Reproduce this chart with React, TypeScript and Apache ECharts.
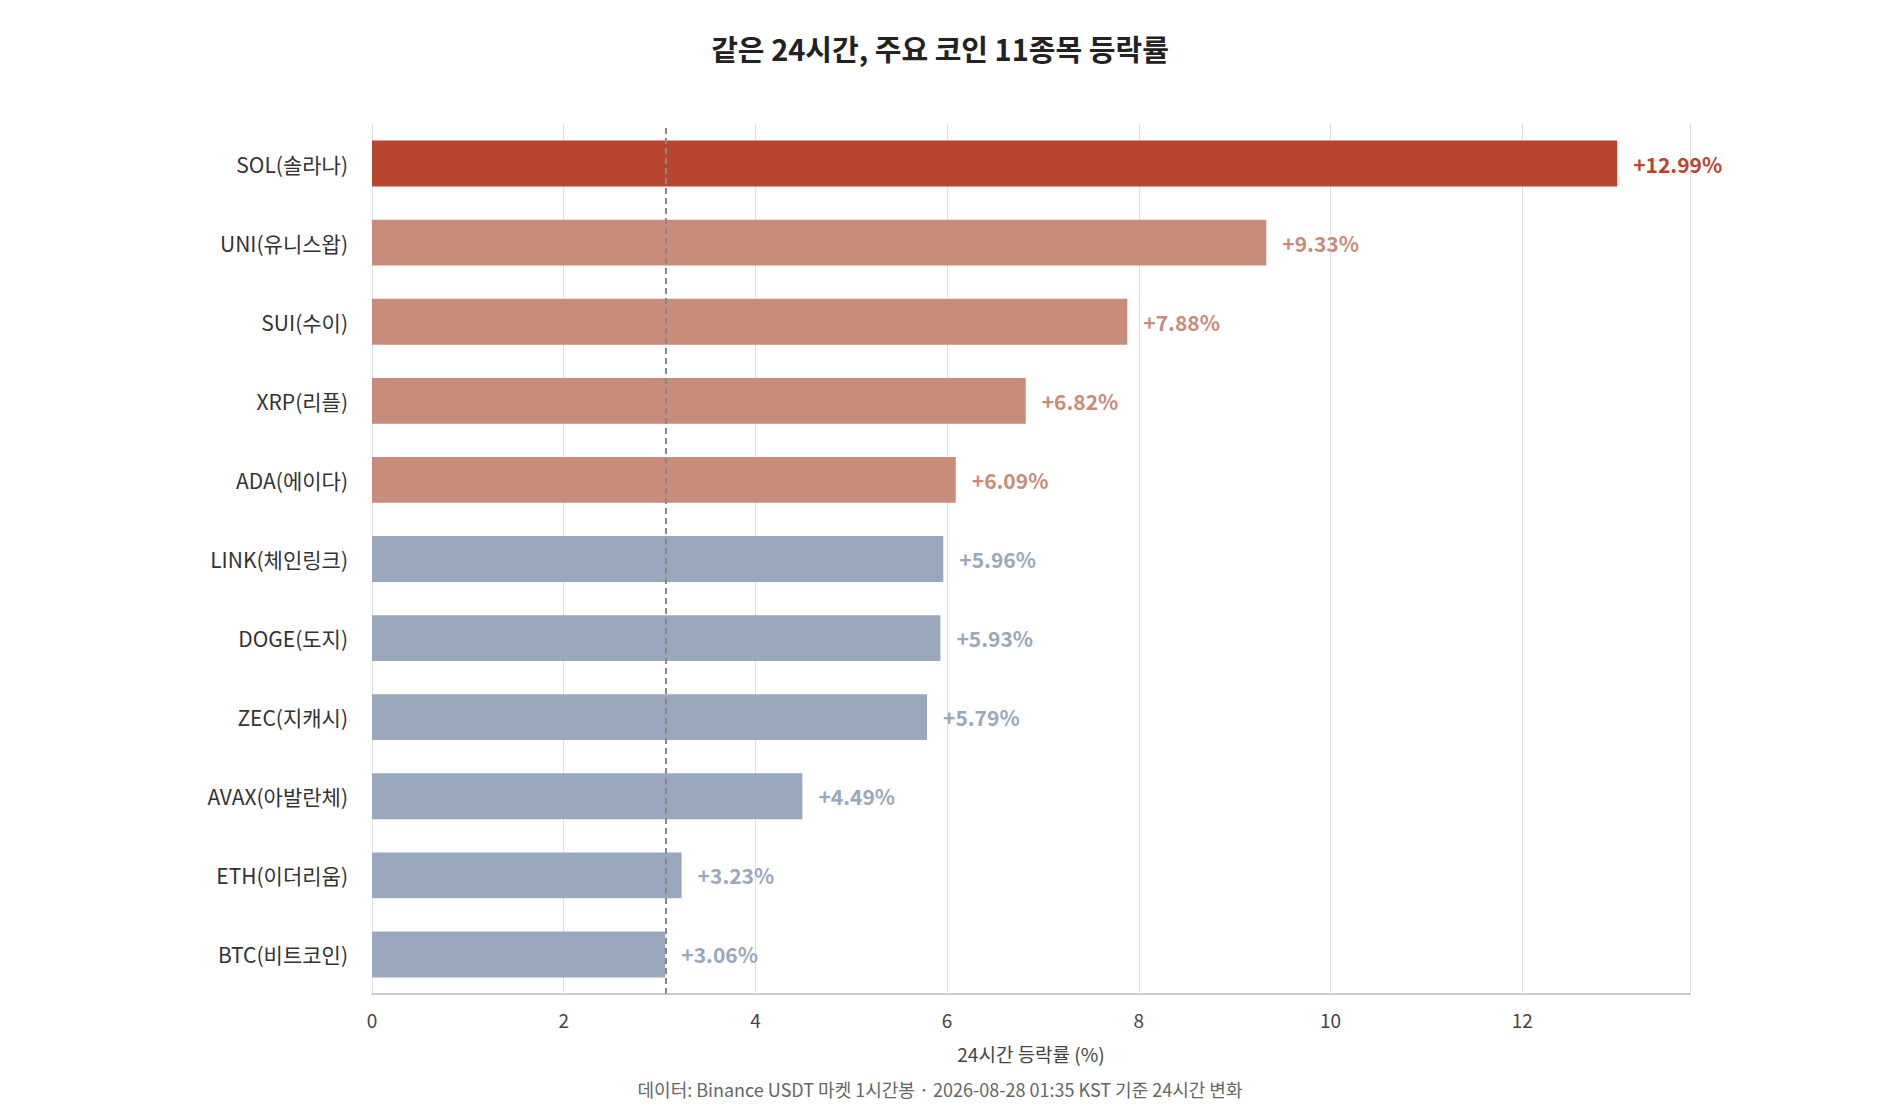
import React, { useEffect, useRef } from "react";
import * as echarts from "echarts";

const coins = [
  "BTC(비트코인)", "ETH(이더리움)", "AVAX(아발란체)", "ZEC(지캐시)", "DOGE(도지)",
  "LINK(체인링크)", "ADA(에이다)", "XRP(리플)", "SUI(수이)", "UNI(유니스왑)", "SOL(솔라나)",
];
const changes = [3.06, 3.23, 4.49, 5.79, 5.93, 5.96, 6.09, 6.82, 7.88, 9.33, 12.99];
const tiers = ["low", "low", "low", "low", "low", "low", "mid", "mid", "mid", "mid", "top"];
const btcRef = 3.06;

const tierColor: Record<string, string> = { top: "#b84530", mid: "#c98b7a", low: "#99a8bd" };
const font = "'Noto Sans CJK KR', 'Noto Sans', sans-serif";

const App: React.FC = () => {
  const chartRef = useRef<HTMLDivElement>(null);

  useEffect(() => {
    if (!chartRef.current) return;
    const chart = echarts.init(chartRef.current, undefined, { renderer: "svg" });

    chart.setOption({
      animation: false,
      textStyle: { fontFamily: font },
      title: {
        text: "같은 24시간, 주요 코인 11종목 등락률",
        left: "center",
        top: 28,
        textStyle: { fontSize: 29, fontWeight: "bold", color: "#222", fontFamily: font },
      },
      graphic: [
        {
          type: "text",
          left: "center",
          top: 1080,
          style: {
            text: "데이터: Binance USDT 마켓 1시간봉 · 2026-08-28 01:35 KST 기준 24시간 변화",
            fontSize: 18,
            fill: "#666",
            fontFamily: font,
          },
        },
      ],
      grid: { left: 372, right: 190, top: 124, bottom: 126 },
      xAxis: {
        type: "value",
        min: 0,
        max: 13.75,
        interval: 2,
        name: "24시간 등락률 (%)",
        nameLocation: "middle",
        nameGap: 50,
        nameTextStyle: { fontSize: 19, color: "#444" },
        axisLine: { show: true, lineStyle: { color: "#ccc", width: 2 } },
        axisTick: { show: false },
        axisLabel: { fontSize: 19, color: "#444", margin: 16, showMaxLabel: false },
        splitLine: { lineStyle: { color: "#e0e0e0", width: 1 } },
      },
      yAxis: {
        type: "category",
        data: coins,
        axisLine: { show: false },
        axisTick: { show: false },
        axisLabel: { fontSize: 21, color: "#333", margin: 24 },
      },
      series: [
        {
          type: "bar",
          data: changes.map((v, i) => ({ value: v, itemStyle: { color: tierColor[tiers[i]] } })),
          barWidth: "58%",
          label: {
            show: true,
            position: "right",
            distance: 16,
            fontSize: 21,
            fontWeight: "bold",
            formatter: (p: any) => `+${p.value.toFixed(2)}%`,
            color: "inherit",
          },
          markLine: {
            symbol: "none",
            silent: true,
            label: { show: false },
            lineStyle: { color: "#888", type: [6, 4], width: 2 },
            data: [{ xAxis: btcRef }],
          },
        },
      ],
    });

    return () => chart.dispose();
  }, []);

  return (
    <div
      ref={chartRef}
      style={{ position: "absolute", left: 0, top: 0, width: 1880, height: 1120, background: "#fff" }}
    />
  );
};

export default App;
